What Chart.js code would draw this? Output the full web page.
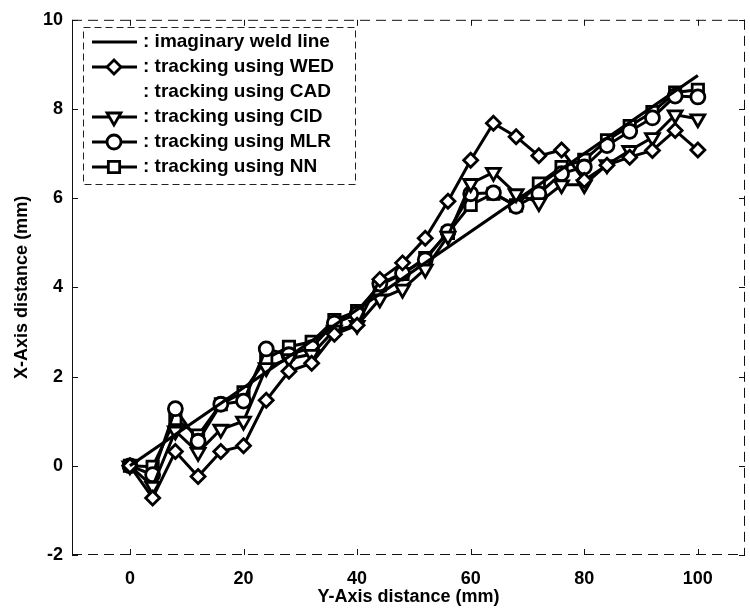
<!DOCTYPE html>
<html><head><meta charset="utf-8">
<script src="https://cdn.jsdelivr.net/npm/chart.js@4/dist/chart.umd.min.js"></script>
<style>html,body{margin:0;padding:0;background:#fff}#wrap{width:750px;height:611px}</style>
</head><body><div id="wrap"><canvas id="c" width="750" height="611"></canvas></div>
<script>
const xValues = [0,4,8,12,16,20,24,28,32,36,40,44,48,52,56,60,64,68,72,76,80,84,88,92,96,100];
const weldX = [0, 100];
const weldY = [0, 8.75];
const wedValues = [0,-0.72,0.32,-0.24,0.32,0.45,1.47,2.12,2.3,2.95,3.15,4.18,4.55,5.1,5.93,6.85,7.68,7.38,6.95,7.08,6.4,6.74,6.92,7.07,7.52,7.08];
const cadValues = [];
const cidValues = [0,-0.46,0.78,0.3,0.82,1.0,2.2,2.4,2.5,3.04,3.15,3.74,3.96,4.41,5.15,6.33,6.58,6.1,5.9,6.3,6.3,6.75,7.07,7.36,7.87,7.78];
const mlrValues = [0,-0.2,1.28,0.55,1.38,1.45,2.62,2.49,2.65,3.2,3.4,4.08,4.32,4.62,5.25,6.1,6.12,5.82,6.1,6.55,6.7,7.18,7.5,7.8,8.29,8.27];
const nnValues = [0,-0.02,1.05,0.68,1.38,1.65,2.4,2.67,2.78,3.27,3.47,4.05,4.3,4.66,5.22,5.85,6.1,5.84,6.33,6.7,6.86,7.3,7.62,7.93,8.37,8.43];
const xTicks = [0,20,40,60,80,100];
const yTicks = [-2,0,2,4,6,8,10];
const seriesLabels = ['imaginary weld line','tracking using WED','tracking using CAD','tracking using CID','tracking using MLR','tracking using NN'];

const FONT = '"Liberation Sans", Arial, sans-serif';
const pts = (xs, ys) => xs.map((x, i) => ({x, y: ys[i]}));
function series(label, data, style, radius, rotation) {
  return {
    label, data, showLine: true, borderColor: '#000', borderWidth: 3, tension: 0,
    pointStyle: style, pointRadius: radius, pointHoverRadius: radius, pointRotation: rotation || 0,
    pointBackgroundColor: '#fff', pointBorderColor: '#000', pointBorderWidth: 2.8
  };
}
const datasets = [
  Object.assign(series(seriesLabels[0], pts(weldX, weldY), 'circle', 0), {borderWidth: 3.2}),
  series(seriesLabels[1], pts(xValues, wedValues), 'rectRot', 7),
  Object.assign(series(seriesLabels[2], pts(xValues, cadValues), false, 0), {borderWidth: 0, noLegendLine: true}),
  series(seriesLabels[3], pts(xValues, cidValues), 'triangle', 8, 180),
  series(seriesLabels[4], pts(xValues, mlrValues), 'circle', 7),
  series(seriesLabels[5], pts(xValues, nnValues), 'rect', 8)
];

const framePlugin = {
  id: 'frame',
  afterDatasetsDraw(chart) {
    const {ctx, chartArea: a, scales: {x, y}} = chart;
    ctx.save();
    ctx.strokeStyle = '#111';
    ctx.lineWidth = 1;
    ctx.beginPath(); ctx.moveTo(a.left + 0.5, a.top); ctx.lineTo(a.left + 0.5, a.bottom); ctx.stroke();
    ctx.setLineDash([10, 6]);
    ctx.beginPath();
    ctx.moveTo(a.left, a.top + 0.5); ctx.lineTo(a.right, a.top + 0.5);
    ctx.moveTo(a.right - 0.5, a.top); ctx.lineTo(a.right - 0.5, a.bottom);
    ctx.moveTo(a.left, a.bottom - 0.5); ctx.lineTo(a.right, a.bottom - 0.5);
    ctx.stroke();
    ctx.setLineDash([]);
    ctx.beginPath();
    xTicks.forEach(v => {
      const px = Math.round(x.getPixelForValue(v)) + 0.5;
      ctx.moveTo(px, a.bottom); ctx.lineTo(px, a.bottom - 6);
      ctx.moveTo(px, a.top); ctx.lineTo(px, a.top + 6);
    });
    yTicks.forEach(v => {
      const py = Math.round(y.getPixelForValue(v)) + 0.5;
      ctx.moveTo(a.left, py); ctx.lineTo(a.left + 6, py);
      ctx.moveTo(a.right, py); ctx.lineTo(a.right - 6, py);
    });
    ctx.stroke();
    ctx.restore();
  }
};

const legendPlugin = {
  id: 'customLegend',
  afterDraw(chart) {
    const ctx = chart.ctx;
    ctx.save();
    ctx.fillStyle = '#fff';
    ctx.fillRect(83, 27, 273, 158);
    ctx.strokeStyle = '#222';
    ctx.lineWidth = 1;
    ctx.setLineDash([7, 4]);
    ctx.strokeRect(83.5, 27.5, 272, 157);
    ctx.setLineDash([]);
    ctx.font = 'bold 19px ' + FONT;
    ctx.textBaseline = 'middle';
    chart.data.datasets.forEach((ds, i) => {
      const yy = 42 + i * 25;
      if (!ds.noLegendLine) {
        ctx.strokeStyle = '#000';
        ctx.lineWidth = ds.borderWidth;
        ctx.beginPath(); ctx.moveTo(92, yy); ctx.lineTo(137, yy); ctx.stroke();
      }
      if (ds.pointRadius > 0) {
        ctx.strokeStyle = '#000'; ctx.fillStyle = '#fff'; ctx.lineWidth = ds.pointBorderWidth;
        Chart.helpers.drawPoint(ctx, {pointStyle: ds.pointStyle, radius: ds.pointRadius, rotation: ds.pointRotation, borderWidth: ds.pointBorderWidth}, 114, yy);
      }
      ctx.fillStyle = '#000';
      ctx.fillText(': ' + ds.label, 143, yy);
    });
    ctx.restore();
  }
};

new Chart(document.getElementById('c'), {
  type: 'line',
  data: {datasets},
  options: {
    responsive: false, animation: false, devicePixelRatio: 1,
    layout: {autoPadding: false, padding: {top: 15, right: 5, left: 0, bottom: 0}},
    plugins: {legend: {display: false}, tooltip: {enabled: false}},
    scales: {
      x: {
        type: 'linear', min: -10.2, max: 108.3,
        afterBuildTicks: s => { s.ticks = xTicks.map(v => ({value: v})); },
        afterFit: s => { s.height = 56; s.paddingLeft = 0; s.paddingRight = 0; },
        grid: {display: false, drawTicks: false},
        border: {display: false},
        ticks: {color: '#000', font: {family: FONT, size: 18, weight: 'bold'}, padding: 13, maxRotation: 0},
        title: {display: true, text: 'Y-Axis distance (mm)', color: '#000', font: {family: FONT, size: 18, weight: 'bold'}, padding: {top: 0, bottom: 3}}
      },
      y: {
        type: 'linear', min: -2, max: 10,
        afterBuildTicks: s => { s.ticks = yTicks.map(v => ({value: v})); },
        afterFit: s => { s.width = 72; },
        grid: {display: false, drawTicks: false},
        border: {display: false},
        ticks: {color: '#000', font: {family: FONT, size: 18, weight: 'bold'}, padding: 9},
        title: {display: true, text: 'X-Axis distance (mm)', color: '#000', font: {family: FONT, size: 18, weight: 'bold'}, padding: {top: 11, bottom: 0}}
      }
    }
  },
  plugins: [framePlugin, legendPlugin]
});
</script>
</body></html>
